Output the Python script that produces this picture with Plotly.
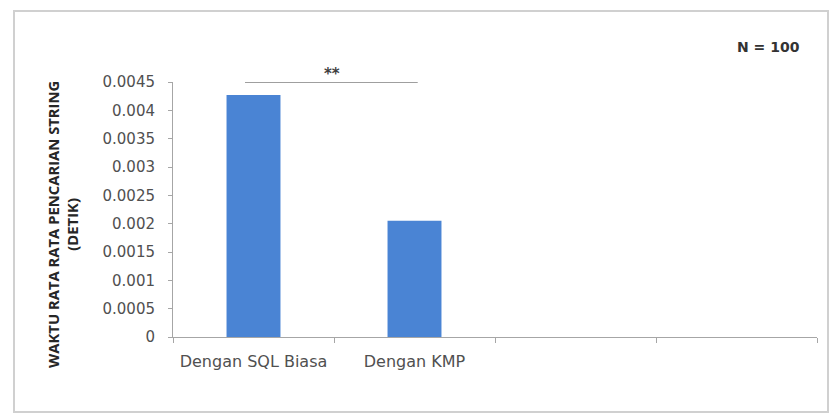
import plotly.graph_objects as go

categories = ["Dengan SQL Biasa", "Dengan KMP", " ", "  "]
values = [0.00427, 0.00205, None, None]
y_ticks = [0, 0.0005, 0.001, 0.0015, 0.002, 0.0025, 0.003, 0.0035, 0.004, 0.0045]
y_tick_labels = ["0", "0.0005", "0.001", "0.0015", "0.002", "0.0025", "0.003", "0.0035", "0.004", "0.0045"]
y_title = "WAKTU RATA RATA PENCARIAN STRING<br>(DETIK)"
sig_label = "**"
n_label = "N = 100"

W, H = 830, 415
L, R, T, B = 173, 13, 82, 78

fig = go.Figure()
fig.add_trace(go.Bar(
    x=categories, y=values,
    marker=dict(color="#4a84d4", line=dict(width=0)),
    width=0.335,
))

fig.update_layout(
    width=W, height=H,
    margin=dict(l=L, r=R, t=T, b=B),
    paper_bgcolor="white", plot_bgcolor="white",
    showlegend=False,
    font=dict(family="DejaVu Sans, sans-serif", color="#404040"),
    xaxis=dict(
        type="category", range=[-0.5, 3.5],
        showline=True, linecolor="#a6a6a6", linewidth=1,
        ticks="outside", tickson="boundaries", ticklen=5, tickcolor="#a6a6a6",
        tickfont=dict(size=16, color="#505050"),
        ticklabelstandoff=10,
        showgrid=False, zeroline=False,
    ),
    yaxis=dict(
        range=[0, 0.0045],
        tickvals=y_ticks, ticktext=y_tick_labels,
        showline=True, linecolor="#a6a6a6", linewidth=1,
        ticks="outside", ticklen=4, tickcolor="#a6a6a6",
        tickfont=dict(size=15, color="#505050"),
        ticklabelstandoff=10,
        showgrid=False, zeroline=False,
    ),
)

# outer chart border
fig.add_shape(type="rect", xref="paper", yref="paper",
              x0=(14 - L) / (W - L - R), x1=(828 - L) / (W - L - R),
              y0=-(412 - (H - B)) / (H - T - B), y1=1 + (T - 11) / (H - T - B),
              line=dict(color="#d0d0d0", width=2), layer="below")

# significance bracket
fig.add_shape(type="line", xref="x", yref="y",
              x0=-0.053, x1=1.02, y0=0.0045, y1=0.0045,
              line=dict(color="#7f7f7f", width=1.5))
fig.add_annotation(x=0.49, y=0.0045, xref="x", yref="y", text="<b>" + sig_label + "</b>",
                   showarrow=False, yanchor="bottom", yshift=-3,
                   font=dict(size=15, color="#404040"))

# N label
fig.add_annotation(x=(768 - L) / (W - L - R), y=1 + (T - 47) / (H - T - B),
                   xref="paper", yref="paper", text="<b>" + n_label + "</b>",
                   showarrow=False, xanchor="center", yanchor="middle",
                   font=dict(family="DejaVu Sans, sans-serif", size=14, color="#333333"))

# y axis title
fig.add_annotation(x=(62 - L) / (W - L - R), y=1 - (225 - T) / (H - T - B),
                   xref="paper", yref="paper", text="<b>" + y_title + "</b>",
                   showarrow=False, textangle=-90, xanchor="center", yanchor="middle",
                   font=dict(family="Open Sans, sans-serif", size=14.8, color="#262626"))

fig.write_html("out.html")
